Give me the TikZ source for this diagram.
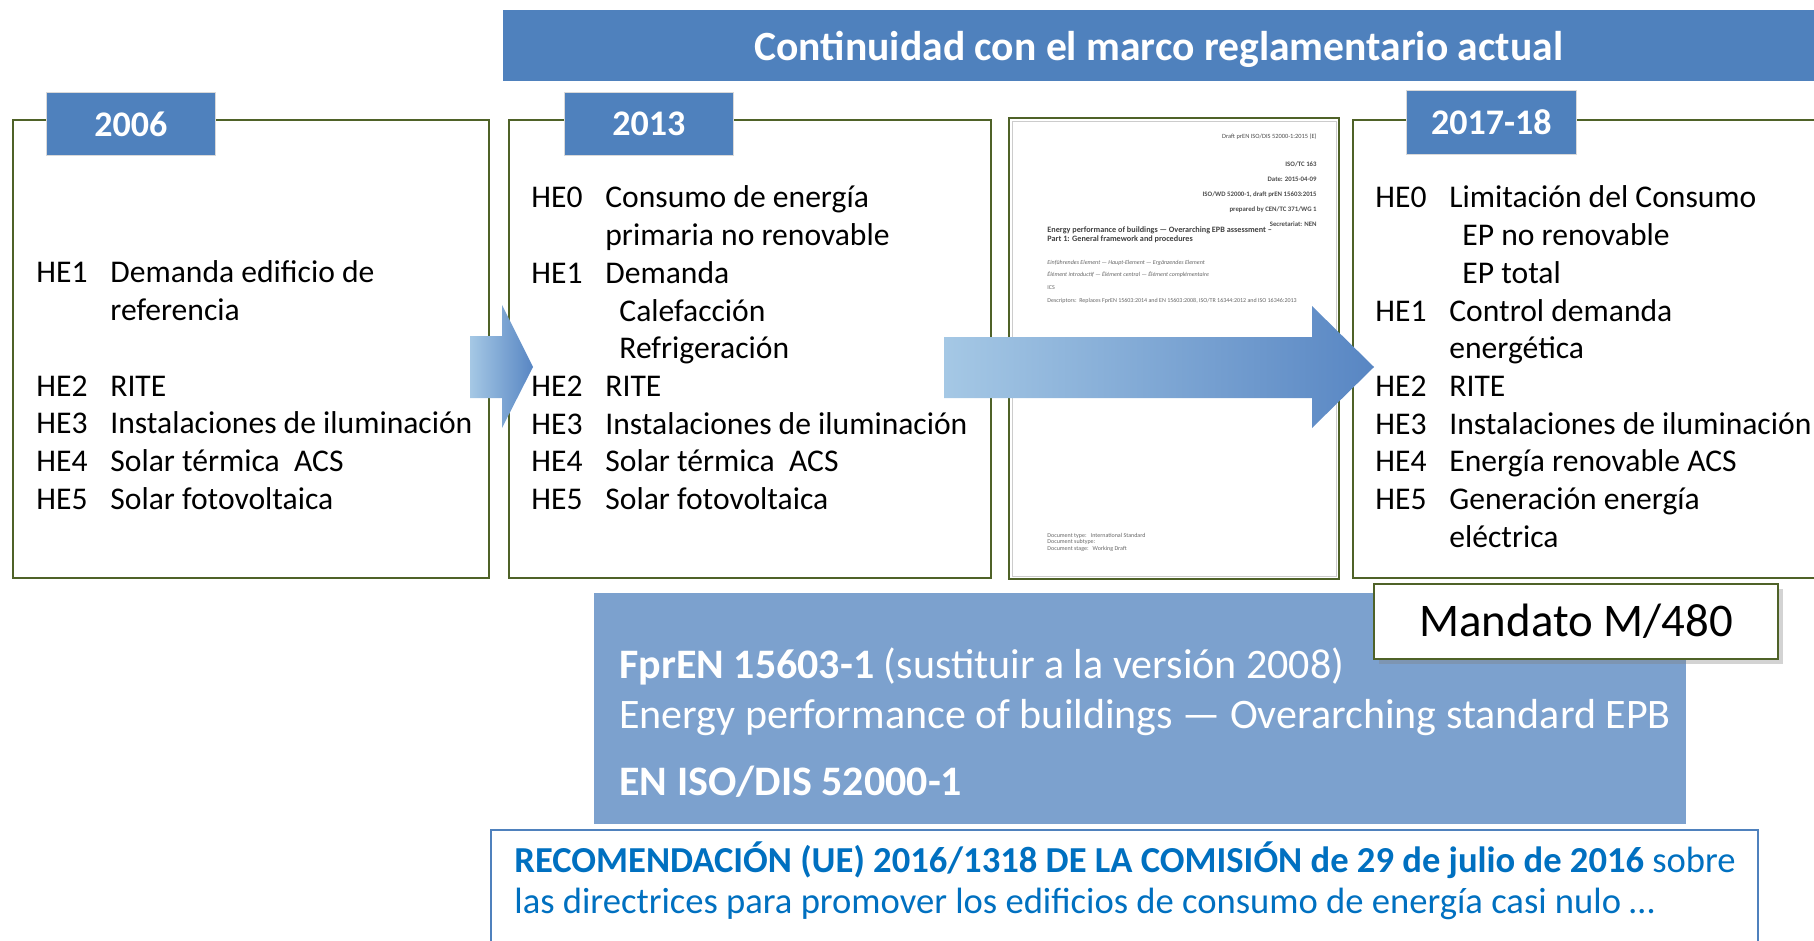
\documentclass[tikz,border=0pt]{standalone}
\usepackage{fontspec}
\setmainfont{Carlito}
\usetikzlibrary{shadows}
\definecolor{framegreen}{RGB}{79,98,40}
\definecolor{tagblue}{RGB}{79,129,189}
\definecolor{normblue}{RGB}{124,161,206}
\definecolor{recblue}{RGB}{0,112,192}
\definecolor{arrowlight}{RGB}{165,200,229}
\definecolor{arrowdark}{RGB}{88,134,195}
\tikzstyle{frame} = [rectangle,draw=framegreen,line width=1pt,inner sep=0pt,anchor=north west]
\tikzstyle{blockarrow} = [left color=arrowlight,right color=arrowdark,draw=none]

\begin{document}
\begin{tikzpicture}
        [
            x=0.5pt, y=-0.5pt,
            tag/.style={rectangle,fill=tagblue,draw=black!15,line width=0.4pt,minimum width=84.5pt,minimum height=31.5pt,anchor=north west,text=white,font=\fontsize{18}{21}\selectfont\bfseries},
            list/.style={anchor=base west,inner sep=0pt,font=\fontsize{15.8}{18.85}\selectfont},
            docline/.style={anchor=base east,inner sep=0pt,text=black!70,font=\fontsize{3.4}{4}\selectfont\bfseries},
            docleft/.style={anchor=base west,inner sep=0pt,text=black!60,font=\fontsize{3}{3.6}\selectfont},
            normtext/.style={anchor=base west,inner sep=0pt,text=white,font=\fontsize{21}{24}\selectfont},
            rectext/.style={anchor=base west,inner sep=0pt,text=recblue,font=\fontsize{18.3}{21}\selectfont},
        ]

    \useasboundingbox (0,0) rectangle (1814,941);
    \clip (0,0) rectangle (1814,941);

    % banner
    \node[rectangle,fill=tagblue,minimum width=655.5pt,minimum height=35.5pt,anchor=north west,inner sep=0pt,text depth=0pt,text=white,font=\fontsize{20.8}{24}\selectfont\bfseries] (banner) at (503,10) {Continuidad con el marco reglamentario actual};

    % frames
    \node[frame,minimum width=238pt,minimum height=229pt] (box2006) at (12,119) {};
    \node[frame,minimum width=241pt,minimum height=229pt] (box2013) at (508,119) {};
    \node[frame,minimum width=165pt,minimum height=230.5pt] (boxdoc) at (1008,117) {};
    \node[frame,minimum width=245pt,minimum height=229pt] (box2017) at (1352,119) {};
    \draw[black!20] ([xshift=2pt,yshift=-2pt]boxdoc.north west) rectangle ([xshift=-2pt,yshift=2pt]boxdoc.south east);

    % year tags
    \node[tag] (tag2006) at (46,92) {2006};
    \node[tag] (tag2013) at (564,92) {2013};
    \node[tag,minimum width=85pt,minimum height=32pt] (tag2017) at (1406,90) {2017-18};

    % lists
    \node[list] (list2006) at (36,283) {\begin{tabular}[t]{@{}p{37pt}@{}l@{}}
        HE1 & Demanda edificio de\\
            & referencia\\
            & \\
        HE2 & RITE\\
        HE3 & Instalaciones de iluminación\\
        HE4 & Solar térmica\ \ ACS\\
        HE5 & Solar fotovoltaica
    \end{tabular}};
    \node[list] (list2013) at (531,208) {\begin{tabular}[t]{@{}p{37pt}@{}l@{}}
        HE0 & Consumo de energía\\
            & primaria no renovable\\
        HE1 & Demanda\\
            & \hspace{7pt}Calefacción\\
            & \hspace{7pt}Refrigeración\\
        HE2 & RITE\\
        HE3 & Instalaciones de iluminación\\
        HE4 & Solar térmica\ \ ACS\\
        HE5 & Solar fotovoltaica
    \end{tabular}};
    \node[list] (list2017) at (1375,208) {\begin{tabular}[t]{@{}p{37pt}@{}l@{}}
        HE0 & Limitación del Consumo\\
            & \hspace{6.5pt}EP no renovable\\
            & \hspace{6.5pt}EP total\\
        HE1 & Control demanda\\
            & energética\\
        HE2 & RITE\\
        HE3 & Instalaciones de iluminación\\
        HE4 & Energía renovable ACS\\
        HE5 & Generación energía\\
            & eléctrica
    \end{tabular}};

    % draft cover page
    \node[docline,font=\fontsize{3.2}{3.8}\selectfont] (draft) at (1317,139) {Draft prEN ISO/DIS 52000-1:2015 (E)};
    \node[docline] (tc) at (1317,167) {ISO/TC 163};
    \node[docline] (date) at (1317,182) {Date: 2015-04-09};
    \node[docline] (wd) at (1317,197) {ISO/WD 52000-1, draft prEN 15603:2015};
    \node[docline] (prep) at (1317,212) {prepared by CEN/TC 371/WG 1};
    \node[docline] (secr) at (1317,227) {Secretariat: NEN};
    \node[docleft,text=black!75,align=left,font=\fontsize{4.1}{4.6}\selectfont\bfseries] (doctitle) at (1047,242) {Energy performance of buildings — Overarching EPB assessment –\\Part 1: General framework and procedures};
    \node[docleft,font=\fontsize{3}{3.6}\selectfont\itshape] (einf) at (1047,264) {Einführendes Element — Haupt-Element — Ergänzendes Element};
    \node[docleft,font=\fontsize{3}{3.6}\selectfont\itshape] (elem) at (1047,277) {Élément introductif — Élément central — Élément complémentaire};
    \node[docleft] (ics) at (1047,289) {ICS};
    \node[docleft] (descr) at (1047,302) {Descriptors:\ \ Replaces FprEN 15603:2014 and EN 15603:2008, ISO/TR 16344:2012 and ISO 16346:2013};
    \node[docleft] (dtype) at (1047,537) {Document type:\ \ \ International Standard};
    \node[docleft] (dsub) at (1047,543) {Document subtype:};
    \node[docleft] (dstage) at (1047,550) {Document stage:\ \ \ Working Draft};

    % block arrows
    \shade[blockarrow] (470,336) -- (502,336) -- (502,305) -- (533,367) -- (502,428) -- (502,398) -- (470,398) -- cycle;
    \shade[blockarrow] (944,337) -- (1312,337) -- (1312,306) -- (1374,367) -- (1312,428) -- (1312,398) -- (944,398) -- cycle;

    % standard box
    \node[rectangle,fill=normblue,minimum width=546pt,minimum height=115.5pt,anchor=north west,inner sep=0pt] (normbox) at (594,593) {};
    \node[normtext] (fpren) at (619,678) {\textbf{FprEN 15603-1} (sustituir a la versión 2008)};
    \node[normtext] (epb) at (619,728) {Energy performance of buildings — Overarching standard EPB};
    \node[normtext] (eniso) at (619,795) {\textbf{EN ISO/DIS 52000-1}};

    % mandate
    \node[rectangle,fill=white,draw=framegreen,line width=1.2pt,drop shadow={shadow xshift=2.5pt,shadow yshift=-2.5pt,opacity=0.35},minimum width=202pt,minimum height=37.5pt,anchor=north west,inner sep=0pt,font=\fontsize{23.4}{28}\selectfont] (mandato) at (1373,583) {Mandato M/480};

    % recommendation
    \node[rectangle,draw=tagblue,line width=0.8pt,minimum width=633.5pt,minimum height=65.5pt,anchor=north west,inner sep=0pt] (recbox) at (490,829) {};
    \node[rectext] (rec1) at (514,872) {\textbf{RECOMENDACIÓN (UE) 2016/1318 DE LA COMISIÓN de 29 de julio de 2016} sobre};
    \node[rectext] (rec2) at (514,913) {las directrices para promover los edificios de consumo de energía casi nulo …};
    \end{tikzpicture}
\end{document}
